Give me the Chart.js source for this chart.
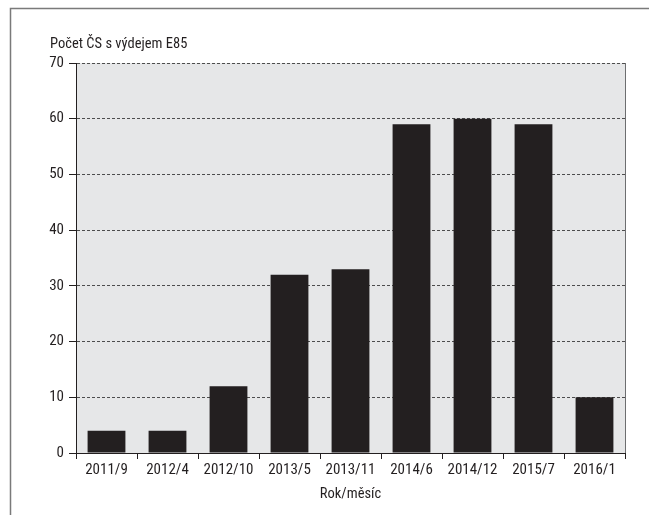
<!DOCTYPE html>
<html><head><meta charset="utf-8">
<script src="https://cdn.jsdelivr.net/npm/chart.js@4"></script>
<style>html,body{margin:0;padding:0;background:#fff}#wrap{width:649px;height:515px}</style>
</head><body><div id="wrap"><canvas id="c" width="649" height="515"></canvas></div>
<script>
const categories = ['2011/9','2012/4','2012/10','2013/5','2013/11','2014/6','2014/12','2015/7','2016/1'];
const stations = [4, 4, 12, 32, 33, 59, 60, 59, 10];
const yTicks = [0,10,20,30,40,50,60,70];
const yTitle = 'Počet ČS s výdejem E85';
const xTitle = 'Rok/měsíc';
const FONT = '"Roboto Condensed","DejaVu Sans Condensed",sans-serif';
const ink = '#231f20';

const decor = {
  id:'decor',
  beforeDraw(chart){
    const {ctx, chartArea:a} = chart;
    ctx.save();
    ctx.fillStyle = '#e6e7e8';
    ctx.fillRect(a.left, a.top, a.right-a.left, a.bottom-a.top);
    ctx.strokeStyle = '#7a7a7a'; ctx.lineWidth = 1.5;
    ctx.beginPath(); ctx.moveTo(10.5, 515); ctx.lineTo(10.5, 8.5); ctx.lineTo(649, 8.5); ctx.stroke();
    ctx.restore();
  },
  afterDraw(chart){
    const {ctx, chartArea:a} = chart;
    ctx.save();
    ctx.strokeStyle = '#6d6e70'; ctx.lineWidth = 1;
    ctx.beginPath(); ctx.moveTo(a.right+0.5, a.top); ctx.lineTo(a.right+0.5, a.bottom); ctx.stroke();
    ctx.fillStyle = ink; ctx.font = '14.5px ' + FONT; ctx.textBaseline = 'middle';
    ctx.textAlign = 'left'; ctx.fillText(yTitle, 50, 44);
    ctx.textAlign = 'center'; ctx.fillText(xTitle, (a.left+a.right)/2, 494);
    ctx.restore();
  }
};

new Chart(document.getElementById('c'), {
  type:'bar',
  data:{ labels: categories, datasets:[{ data: stations, backgroundColor: ink, borderColor: ink, borderWidth: 0, barPercentage: 0.62, categoryPercentage: 1 }]},
  options:{
    responsive:false, animation:false,
    layout:{ padding:{ left:0, top:63, right:24, bottom:0 } },
    plugins:{ legend:{display:false}, tooltip:{enabled:false}, title:{display:false} },
    scales:{
      x:{
        offset:true,
        grid:{ drawOnChartArea:false, drawTicks:true, tickLength:6, color:ink, offset:true },
        border:{ display:true, color:ink, width:1 },
        ticks:{ color:ink, font:{family:FONT, size:15}, padding:2, maxRotation:0 },
        afterFit(s){ s.height = 62; }
      },
      y:{
        min:0, max:70,
        afterBuildTicks(s){ s.ticks = yTicks.map(v=>({value:v})); },
        grid:{ color:'#4d4d4d', lineWidth:1, tickBorderDash:[], tickColor:ink, tickLength:7, drawTicks:true },
        border:{ display:true, color:ink, width:1, dash:[3,2] },
        ticks:{ color:ink, font:{family:FONT, size:15}, padding:5 },
        afterFit(s){ s.width = 76; }
      }
    }
  },
  plugins:[decor]
});
</script></body></html>
